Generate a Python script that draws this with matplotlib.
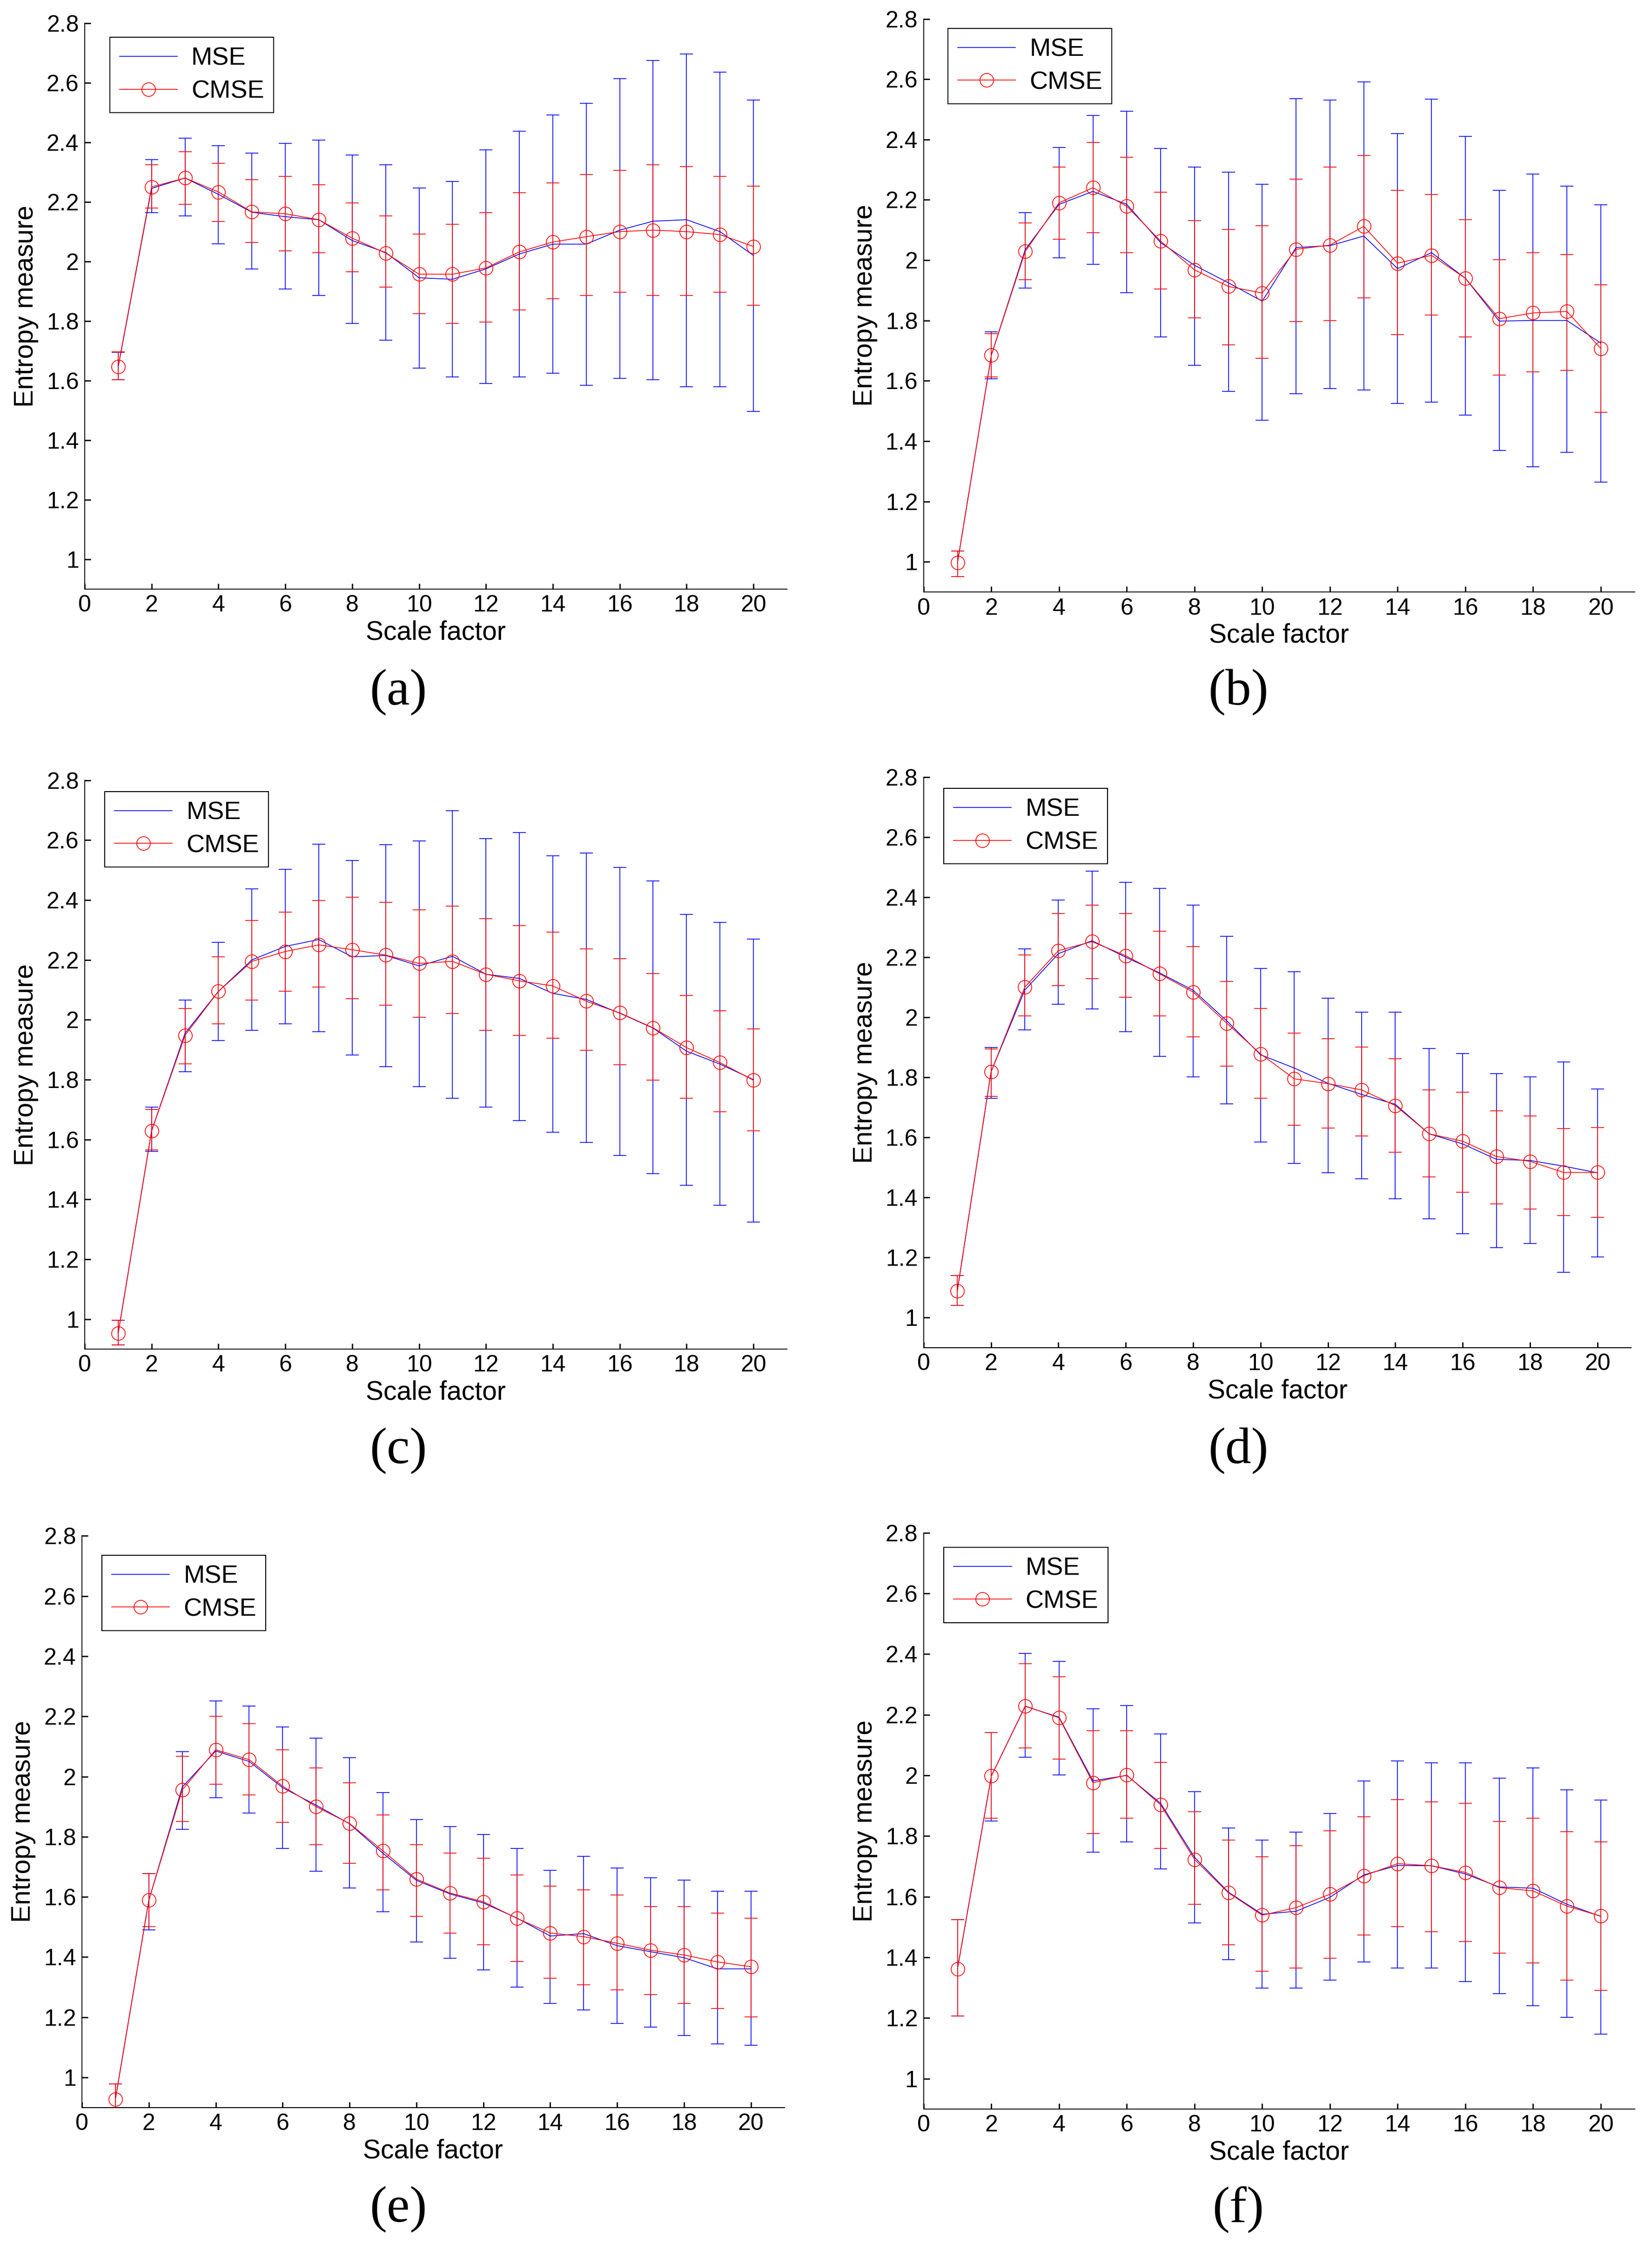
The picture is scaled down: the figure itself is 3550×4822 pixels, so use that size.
import matplotlib
matplotlib.use("Agg")
import matplotlib.pyplot as plt
from matplotlib.lines import Line2D
import numpy as np

# ---------------- data ----------------
scale = list(range(1, 21))
x_ticks = [0, 2, 4, 6, 8, 10, 12, 14, 16, 18, 20]
y_ticks = [1, 1.2, 1.4, 1.6, 1.8, 2, 2.2, 2.4, 2.6, 2.8]
y_tick_labels = ["1", "1.2", "1.4", "1.6", "1.8", "2", "2.2", "2.4", "2.6", "2.8"]
panel_labels = ["(a)", "(b)", "(c)", "(d)", "(e)", "(f)"]
series_names = ["MSE", "CMSE"]

# (a)
a_mse = [1.645, 2.245, 2.28, 2.225, 2.165, 2.15, 2.14, 2.07, 2.03, 1.945, 1.94, 1.975, 2.025, 2.058, 2.058, 2.105, 2.135, 2.14, 2.10, 2.02]
a_mse_hi = [1.695, 2.342, 2.414, 2.389, 2.363, 2.397, 2.408, 2.358, 2.324, 2.246, 2.268, 2.375, 2.437, 2.491, 2.530, 2.613, 2.675, 2.697, 2.636, 2.542]
a_mse_lo = [1.602, 2.163, 2.152, 2.059, 1.975, 1.908, 1.886, 1.792, 1.735, 1.641, 1.612, 1.590, 1.612, 1.625, 1.584, 1.608, 1.602, 1.580, 1.580, 1.497]
a_cmse = [1.647, 2.25, 2.28, 2.233, 2.166, 2.16, 2.14, 2.078, 2.028, 1.957, 1.957, 1.978, 2.032, 2.065, 2.083, 2.1, 2.105, 2.1, 2.09, 2.05]
a_cmse_hi = [1.696, 2.324, 2.369, 2.329, 2.275, 2.285, 2.257, 2.197, 2.152, 2.091, 2.124, 2.163, 2.231, 2.263, 2.292, 2.306, 2.324, 2.318, 2.285, 2.252]
a_cmse_lo = [1.602, 2.179, 2.191, 2.134, 2.063, 2.036, 2.030, 1.965, 1.914, 1.824, 1.792, 1.796, 1.837, 1.875, 1.886, 1.896, 1.886, 1.886, 1.896, 1.853]

# (b)
b_mse = [0.997, 1.685, 2.035, 2.185, 2.228, 2.185, 2.058, 1.983, 1.925, 1.864, 2.042, 2.048, 2.08, 1.972, 2.025, 1.94, 1.798, 1.80, 1.80, 1.725]
b_mse_hi = [1.036, 1.762, 2.158, 2.374, 2.480, 2.493, 2.370, 2.308, 2.291, 2.252, 2.536, 2.531, 2.591, 2.419, 2.534, 2.411, 2.231, 2.286, 2.245, 2.183]
b_mse_lo = [0.951, 1.606, 1.908, 2.008, 1.986, 1.892, 1.746, 1.652, 1.565, 1.469, 1.558, 1.575, 1.569, 1.525, 1.530, 1.486, 1.369, 1.315, 1.363, 1.264]
b_cmse = [0.997, 1.685, 2.029, 2.19, 2.24, 2.179, 2.063, 1.968, 1.913, 1.891, 2.036, 2.05, 2.112, 1.99, 2.016, 1.94, 1.806, 1.825, 1.83, 1.707]
b_cmse_hi = [1.036, 1.756, 2.124, 2.308, 2.391, 2.341, 2.225, 2.131, 2.102, 2.114, 2.269, 2.308, 2.347, 2.231, 2.217, 2.135, 2.001, 2.025, 2.018, 1.918]
b_cmse_lo = [0.951, 1.613, 1.935, 2.069, 2.091, 2.025, 1.904, 1.809, 1.719, 1.675, 1.796, 1.800, 1.875, 1.753, 1.818, 1.745, 1.619, 1.630, 1.634, 1.496]

# (c)
c_mse = [0.953, 1.629, 1.955, 2.095, 2.2, 2.245, 2.268, 2.21, 2.215, 2.18, 2.212, 2.152, 2.138, 2.088, 2.068, 2.022, 1.972, 1.895, 1.852, 1.80]
c_mse_hi = [0.997, 1.708, 2.065, 2.259, 2.437, 2.502, 2.587, 2.532, 2.585, 2.597, 2.698, 2.605, 2.626, 2.548, 2.557, 2.508, 2.463, 2.351, 2.325, 2.269]
c_mse_lo = [0.914, 1.561, 1.826, 1.931, 1.965, 1.987, 1.960, 1.882, 1.843, 1.776, 1.737, 1.708, 1.663, 1.624, 1.590, 1.547, 1.486, 1.447, 1.380, 1.325]
c_cmse = [0.953, 1.629, 1.948, 2.095, 2.195, 2.228, 2.25, 2.234, 2.216, 2.188, 2.195, 2.152, 2.13, 2.113, 2.062, 2.023, 1.973, 1.907, 1.857, 1.798]
c_cmse_hi = [0.997, 1.701, 2.037, 2.210, 2.331, 2.360, 2.399, 2.409, 2.392, 2.367, 2.380, 2.338, 2.314, 2.292, 2.236, 2.204, 2.154, 2.082, 2.030, 1.970]
c_cmse_lo = [0.914, 1.566, 1.853, 1.987, 2.065, 2.096, 2.109, 2.071, 2.048, 2.009, 2.020, 1.965, 1.948, 1.938, 1.898, 1.849, 1.799, 1.737, 1.692, 1.629]

# (d)
d_mse = [1.089, 1.818, 2.09, 2.212, 2.255, 2.2, 2.148, 2.09, 1.988, 1.875, 1.831, 1.78, 1.743, 1.71, 1.612, 1.578, 1.527, 1.523, 1.504, 1.482]
d_mse_hi = [1.140, 1.899, 2.228, 2.390, 2.486, 2.450, 2.430, 2.374, 2.269, 2.162, 2.152, 2.063, 2.017, 2.017, 1.896, 1.879, 1.812, 1.801, 1.851, 1.762]
d_mse_lo = [1.040, 1.730, 1.958, 2.043, 2.028, 1.952, 1.870, 1.802, 1.711, 1.585, 1.513, 1.482, 1.462, 1.396, 1.328, 1.279, 1.233, 1.246, 1.151, 1.202]
d_cmse = [1.089, 1.818, 2.1, 2.222, 2.252, 2.205, 2.145, 2.084, 1.98, 1.878, 1.795, 1.779, 1.758, 1.706, 1.612, 1.587, 1.536, 1.52, 1.483, 1.483]
d_cmse_hi = [1.140, 1.894, 2.207, 2.346, 2.374, 2.346, 2.286, 2.235, 2.119, 2.030, 1.948, 1.929, 1.900, 1.862, 1.758, 1.751, 1.688, 1.672, 1.629, 1.633]
d_cmse_lo = [1.040, 1.737, 2.004, 2.106, 2.129, 2.067, 2.004, 1.935, 1.837, 1.730, 1.641, 1.631, 1.605, 1.551, 1.468, 1.417, 1.378, 1.362, 1.339, 1.334]

# (e)
e_mse = [0.928, 1.589, 1.965, 2.085, 2.05, 1.963, 1.905, 1.843, 1.745, 1.655, 1.61, 1.58, 1.53, 1.47, 1.478, 1.438, 1.418, 1.398, 1.361, 1.361]
e_mse_hi = [0.978, 1.677, 2.083, 2.251, 2.235, 2.165, 2.128, 2.062, 1.946, 1.857, 1.834, 1.808, 1.761, 1.689, 1.735, 1.696, 1.663, 1.656, 1.619, 1.619]
e_mse_lo = [0.88, 1.490, 1.825, 1.929, 1.878, 1.761, 1.685, 1.630, 1.550, 1.451, 1.396, 1.357, 1.301, 1.246, 1.224, 1.179, 1.168, 1.140, 1.111, 1.107]
e_cmse = [0.928, 1.589, 1.956, 2.089, 2.056, 1.968, 1.9, 1.844, 1.753, 1.659, 1.613, 1.584, 1.529, 1.48, 1.468, 1.446, 1.423, 1.407, 1.384, 1.368]
e_cmse_hi = [0.978, 1.677, 2.068, 2.200, 2.175, 2.089, 2.028, 1.979, 1.873, 1.774, 1.745, 1.729, 1.673, 1.636, 1.624, 1.606, 1.568, 1.568, 1.546, 1.529]
e_cmse_lo = [0.88, 1.501, 1.851, 1.974, 1.939, 1.847, 1.774, 1.712, 1.624, 1.536, 1.480, 1.441, 1.386, 1.330, 1.308, 1.291, 1.275, 1.246, 1.229, 1.201]

# (f)
f_mse = [1.362, 1.998, 2.228, 2.192, 1.982, 2.0, 1.908, 1.73, 1.615, 1.542, 1.552, 1.598, 1.672, 1.703, 1.702, 1.675, 1.632, 1.628, 1.575, 1.535]
f_mse_hi = [1.525, 2.142, 2.403, 2.376, 2.219, 2.231, 2.137, 1.947, 1.826, 1.787, 1.813, 1.875, 1.981, 2.047, 2.041, 2.041, 1.991, 2.025, 1.953, 1.919]
f_mse_lo = [1.207, 1.849, 2.060, 2.001, 1.747, 1.780, 1.692, 1.513, 1.392, 1.298, 1.298, 1.325, 1.385, 1.364, 1.364, 1.320, 1.281, 1.241, 1.202, 1.147]
f_cmse = [1.362, 1.998, 2.229, 2.19, 1.976, 2.001, 1.903, 1.723, 1.613, 1.539, 1.564, 1.608, 1.669, 1.709, 1.702, 1.68, 1.63, 1.619, 1.569, 1.536]
f_cmse_hi = [1.525, 2.142, 2.369, 2.326, 2.148, 2.148, 2.043, 1.880, 1.787, 1.731, 1.768, 1.818, 1.864, 1.920, 1.913, 1.908, 1.848, 1.859, 1.815, 1.780]
f_cmse_lo = [1.207, 1.859, 2.091, 2.054, 1.809, 1.859, 1.759, 1.575, 1.441, 1.354, 1.364, 1.397, 1.474, 1.501, 1.484, 1.452, 1.414, 1.381, 1.325, 1.291]

panels = [
    (a_mse, a_mse_lo, a_mse_hi, a_cmse, a_cmse_lo, a_cmse_hi),
    (b_mse, b_mse_lo, b_mse_hi, b_cmse, b_cmse_lo, b_cmse_hi),
    (c_mse, c_mse_lo, c_mse_hi, c_cmse, c_cmse_lo, c_cmse_hi),
    (d_mse, d_mse_lo, d_mse_hi, d_cmse, d_cmse_lo, d_cmse_hi),
    (e_mse, e_mse_lo, e_mse_hi, e_cmse, e_cmse_lo, e_cmse_hi),
    (f_mse, f_mse_lo, f_mse_hi, f_cmse, f_cmse_lo, f_cmse_hi),
]

# ---------------- layout / style ----------------
SANS = ["Liberation Sans Narrow", "Liberation Sans", "DejaVu Sans"]
SERIF = ["Liberation Serif", "DejaVu Serif"]

# axes rectangles [left, bottom, width, height] in figure fraction
rects = [
    [0.0513, 0.7375, 0.4250, 0.2522],
    [0.5591, 0.7362, 0.4304, 0.2554],
    [0.0513, 0.3988, 0.4250, 0.2535],
    [0.5591, 0.3995, 0.4283, 0.2542],
    [0.0496, 0.0608, 0.4252, 0.2548],
    [0.5591, 0.0602, 0.4304, 0.2567],
]
label_pos = [(0.241, 0.6914), (0.7496, 0.6914), (0.241, 0.3534),
             (0.7496, 0.3534), (0.241, 0.0154), (0.7496, 0.0154)]
legend_anchor = [(0.75, 2.752), (0.72, 2.768), (0.60, 2.762),
                 (0.60, 2.762), (0.60, 2.735), (0.60, 2.752)]

fig = plt.figure(figsize=(35.5, 48.22), dpi=100)

LW = 1.2
for i, (mse, mlo, mhi, cm, clo, chi) in enumerate(panels):
    ax = fig.add_axes(rects[i])
    x = np.array(scale)
    mse = np.array(mse); mlo = np.array(mlo); mhi = np.array(mhi)
    cm = np.array(cm); clo = np.array(clo); chi = np.array(chi)

    ax.errorbar(x, mse, yerr=[mse - mlo, mhi - mse], fmt="none",
                ecolor="#0000ff", elinewidth=LW, capsize=10, capthick=LW, zorder=2)
    ax.errorbar(x, cm, yerr=[cm - clo, chi - cm], fmt="none",
                ecolor="#ff0000", elinewidth=LW, capsize=10, capthick=LW, zorder=3)
    ax.plot(x, mse, color="#0000ff", lw=LW, zorder=4)
    ax.plot(x, cm, color="#ff0000", lw=LW, marker="o", markersize=21,
            markerfacecolor="none", markeredgecolor="#ff0000",
            markeredgewidth=LW, zorder=5)

    ax.set_xlim(0, 21)
    ax.set_ylim(0.9, 2.8)
    ax.set_xticks(x_ticks)
    ax.set_xticklabels([str(t) for t in x_ticks])
    ax.set_yticks(y_ticks)
    ax.set_yticklabels(y_tick_labels)
    for s in ["top", "right"]:
        ax.spines[s].set_visible(False)
    for s in ["left", "bottom"]:
        ax.spines[s].set_linewidth(1.5)
        ax.spines[s].set_color("black")
    ax.tick_params(direction="in", length=9, width=2, colors="black",
                   labelsize=36, pad=9)
    for lab in ax.get_xticklabels() + ax.get_yticklabels():
        lab.set_family(SANS)
    ax.set_xlabel("Scale factor", fontsize=41, family=SANS, labelpad=6)
    ax.set_ylabel("Entropy measure", fontsize=41, family=SANS, labelpad=12)

    handles = [
        Line2D([], [], color="#0000ff", lw=LW),
        Line2D([], [], color="#ff0000", lw=LW, marker="o", markersize=21,
               markerfacecolor="none", markeredgecolor="#ff0000", markeredgewidth=LW),
    ]
    leg = ax.legend(handles, series_names, loc="upper left",
                    bbox_to_anchor=legend_anchor[i],
                    bbox_transform=ax.transData,
                    prop={"family": SANS, "size": 39},
                    frameon=True, fancybox=False, framealpha=1,
                    edgecolor="black", handlelength=2.3, handletextpad=0.55,
                    borderpad=0.38, labelspacing=0.38, borderaxespad=0)
    leg.get_frame().set_linewidth(1.5)

    fig.text(label_pos[i][0], label_pos[i][1], panel_labels[i],
             ha="center", va="center", fontsize=80, family=SERIF)

fig.savefig("out.png", dpi=100, facecolor="white")
